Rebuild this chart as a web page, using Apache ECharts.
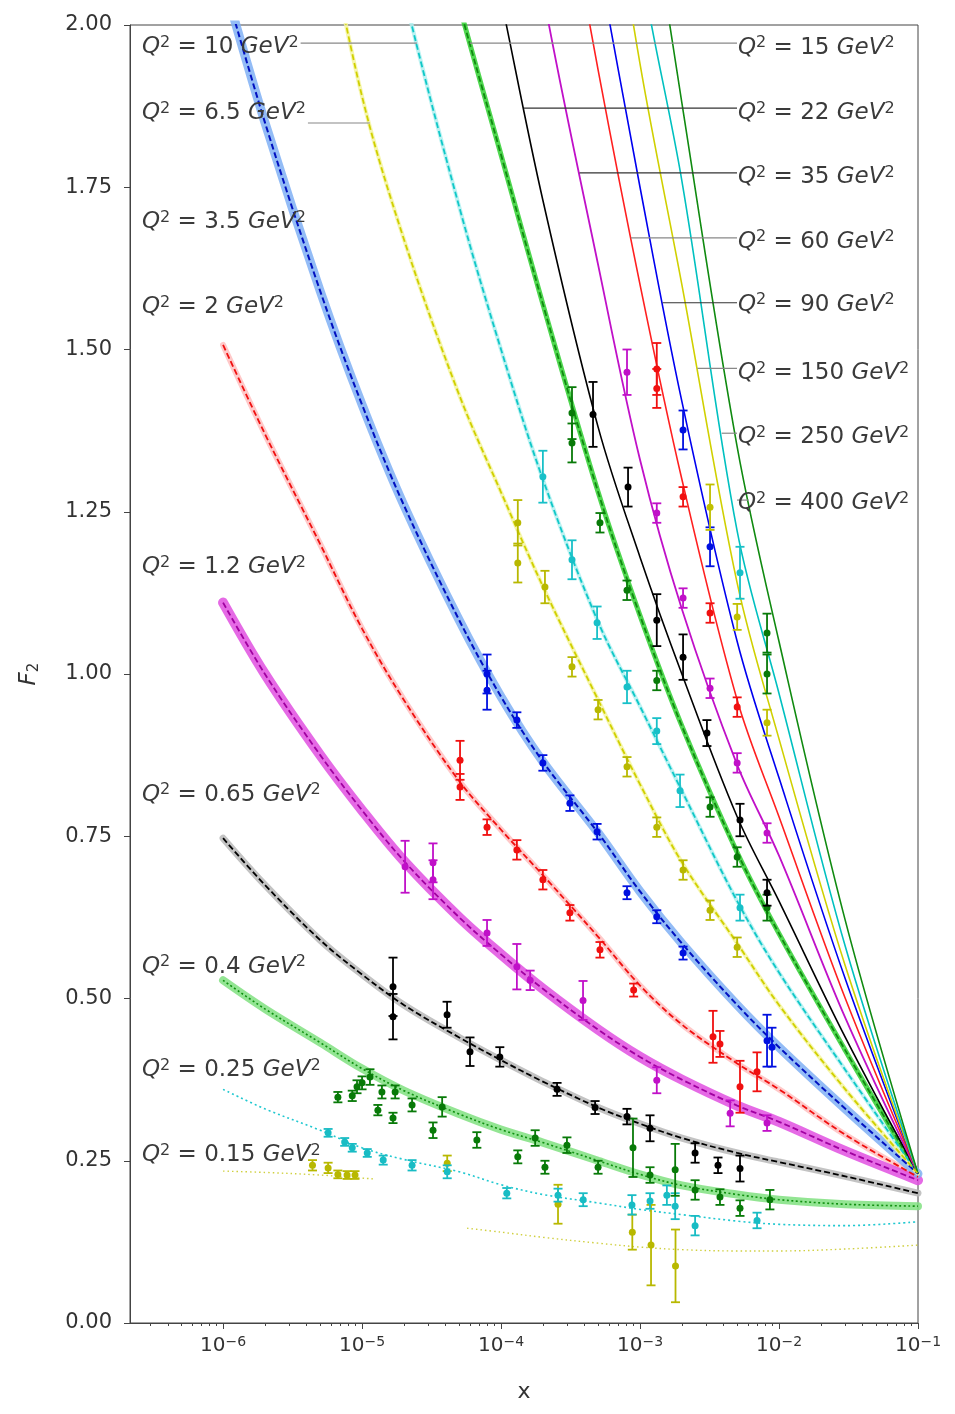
<!DOCTYPE html>
<html><head><meta charset="utf-8">
<script src="https://cdn.jsdelivr.net/npm/echarts@6/dist/echarts.min.js"></script>
<style>html,body{margin:0;padding:0;background:#fff}#c{width:955px;height:1414px}</style>
</head><body><div id="c"></div>
<script>
// ---------- axis ranges / ticks ----------
const X_MIN = 2.14e-7, X_MAX = 0.1;
const xMajorTicks = [1e-6, 1e-5, 1e-4, 1e-3, 1e-2, 1e-1];
const yTicks = [0, 0.25, 0.5, 0.75, 1.0, 1.25, 1.5, 1.75, 2.0];

// ---------- model curves (F2 vs x) ----------
const fitX = [1e-6,2e-6,5e-6,1e-5,2e-5,5e-5,1e-4,2e-4,5e-4,1e-3,2e-3,5e-3,1e-2,3e-2,1e-1];
const fit015X = [1e-6,2e-6,5e-6,1.2e-5,3e-5,5.7e-5,1e-4,2e-4,5e-4,1e-3,2e-3,5e-3,1e-2,3e-2,1e-1];
const fit015 = [0.234,0.232,0.228,0.222,null,0.146,0.14,0.132,0.123,0.117,0.113,0.111,0.111,0.114,0.12];
const fit025 = [0.36,0.33,0.297,0.27,0.252,0.233,0.213,0.198,0.185,0.175,0.167,0.157,0.152,0.15,0.156];
const fit04  = [0.528,0.484,0.432,0.392,0.358,0.322,0.298,0.278,0.25,0.229,0.212,0.198,0.19,0.183,0.18];
const fit065 = [0.747,0.675,0.59,0.537,0.49,0.44,0.405,0.372,0.332,0.307,0.285,0.262,0.248,0.226,0.2];
const fit12  = [1.11,1.0,0.875,0.79,0.712,0.625,0.568,0.515,0.452,0.41,0.375,0.335,0.31,0.265,0.22];
const fit2   = [1.507,1.37,1.2,1.07,0.96,0.835,0.76,0.69,0.595,0.52,0.46,0.4,0.36,0.29,0.225];
const fit35  = [2.07,1.85,1.59,1.415,1.26,1.083,0.965,0.865,0.755,0.665,0.585,0.49,0.425,0.33,0.23];
const fit65  = [null,null,2.2,1.89,1.67,1.43,1.28,1.135,0.96,0.83,0.71,0.585,0.49,0.36,0.23];
const fit10  = [null,null,null,2.35,2.05,1.72,1.5,1.3,1.08,0.95,0.82,0.65,0.54,0.39,0.23];
const fit15  = [null,null,null,null,2.35,2.03,1.8,1.57,1.28,1.09,0.92,0.725,0.6,0.42,0.23];
const fit22  = [null,null,null,null,null,2.35,2.04,1.73,1.38,1.18,1.0,0.78,0.65,0.44,0.23];
const fit35b = [null,null,null,null,null,null,2.45,2.05,1.63,1.33,1.1,0.86,0.72,0.47,0.23];
const fit60  = [null,null,null,null,null,null,null,2.4,1.93,1.6,1.3,0.96,0.78,0.5,0.23];
const fit90  = [null,null,null,null,null,null,null,2.56,2.1,1.75,1.42,1.05,0.84,0.53,0.23];
const fit150 = [null,null,null,null,null,null,null,null,2.35,1.94,1.6,1.14,0.9,0.55,0.23];
const fit250 = [null,null,null,null,null,null,null,null,2.6,2.1,1.76,1.22,0.97,0.58,0.23];
const fit400 = [null,null,null,null,null,null,null,null,null,2.3,1.88,1.35,1.05,0.62,0.23];

// ---------- measured points [x, F2, error] ----------
const pts015 = [[4.4e-6,0.243,0.008],[5.7e-6,0.239,0.008],[6.7e-6,0.229,0.006],[7.8e-6,0.228,0.006],[8.9e-6,0.228,0.006],[4.1e-5,0.246,0.012],[2.57e-4,0.183,0.03],[8.8e-4,0.14,0.027],[1.2e-3,0.12,0.062],[1.8e-3,0.088,0.056]];
const pts025 = [[5.7e-6,0.293,0.006],[7.5e-6,0.279,0.006],[8.5e-6,0.27,0.006],[1.09e-5,0.262,0.006],[1.42e-5,0.251,0.007],[2.29e-5,0.243,0.008],[4.1e-5,0.233,0.01],[1.1e-4,0.2,0.008],[2.57e-4,0.197,0.01],[3.9e-4,0.19,0.01],[8.75e-4,0.182,0.015],[1.18e-3,0.188,0.012],[1.56e-3,0.197,0.015],[1.79e-3,0.18,0.02],[2.49e-3,0.15,0.015],[6.95e-3,0.158,0.012]];
const pts04 = [[6.7e-6,0.348,0.008],[8.5e-6,0.35,0.008],[9.2e-6,0.364,0.01],[1.0e-5,0.37,0.01],[1.14e-5,0.379,0.012],[1.3e-5,0.328,0.008],[1.39e-5,0.356,0.01],[1.67e-5,0.316,0.008],[1.73e-5,0.356,0.01],[2.29e-5,0.336,0.01],[3.77e-5,0.333,0.015],[3.24e-5,0.297,0.012],[6.7e-5,0.282,0.012],[1.32e-4,0.256,0.01],[1.76e-4,0.285,0.012],[2.07e-4,0.24,0.01],[2.98e-4,0.274,0.012],[4.99e-4,0.24,0.01],[8.9e-4,0.27,0.045],[1.18e-3,0.228,0.012],[1.79e-3,0.236,0.04],[2.49e-3,0.205,0.015],[3.76e-3,0.194,0.012],[5.24e-3,0.177,0.012],[8.6e-3,0.19,0.015]];
const pts065 = [[1.67e-5,0.518,0.045],[1.67e-5,0.472,0.035],[4.09e-5,0.475,0.02],[5.98e-5,0.418,0.022],[9.8e-5,0.41,0.015],[2.53e-4,0.36,0.01],[4.75e-4,0.332,0.01],[8.06e-4,0.318,0.012],[1.18e-3,0.3,0.02],[2.49e-3,0.262,0.015],[3.64e-3,0.243,0.012],[5.24e-3,0.238,0.02]];
const pts12 = [[2.04e-5,0.703,0.04],[3.24e-5,0.709,0.03],[3.24e-5,0.683,0.03],[7.93e-5,0.601,0.02],[1.3e-4,0.549,0.035],[1.62e-4,0.528,0.015],[3.89e-4,0.497,0.03],[1.32e-3,0.374,0.02],[4.45e-3,0.323,0.02],[8.2e-3,0.308,0.012]];
const pts2 = [[5.07e-5,0.867,0.03],[5.07e-5,0.826,0.02],[7.93e-5,0.764,0.012],[1.3e-4,0.729,0.015],[2.0e-4,0.683,0.015],[3.13e-4,0.632,0.012],[5.15e-4,0.575,0.012],[9.0e-4,0.513,0.01],[3.35e-3,0.441,0.04],[3.76e-3,0.43,0.02],[5.24e-3,0.364,0.04],[6.95e-3,0.387,0.03]];
const pts35 = [[7.93e-5,1.0,0.03],[7.93e-5,0.975,0.03],[1.3e-4,0.929,0.012],[2.0e-4,0.863,0.012],[3.13e-4,0.801,0.012],[4.91e-4,0.757,0.012],[8.06e-4,0.663,0.01],[1.32e-3,0.626,0.01],[2.04e-3,0.57,0.01],[8.2e-3,0.435,0.04],[8.9e-3,0.425,0.03]];
const pts65 = [[1.32e-4,1.233,0.035],[1.32e-4,1.171,0.03],[2.07e-4,1.134,0.025],[3.24e-4,1.011,0.015],[4.99e-4,0.945,0.015],[8.06e-4,0.857,0.015],[1.32e-3,0.764,0.015],[2.04e-3,0.698,0.015],[3.19e-3,0.636,0.015],[5.0e-3,0.579,0.015]];
const pts10 = [[2.0e-4,1.304,0.04],[3.24e-4,1.176,0.03],[4.91e-4,1.079,0.025],[8.06e-4,0.98,0.025],[1.32e-3,0.912,0.02],[1.94e-3,0.82,0.025],[5.24e-3,0.64,0.02]];
const pts15 = [[3.24e-4,1.402,0.04],[3.24e-4,1.356,0.03],[5.15e-4,1.233,0.015],[8.06e-4,1.129,0.015],[1.32e-3,0.99,0.015],[3.19e-3,0.795,0.015],[5.0e-3,0.718,0.015],[8.2e-3,0.64,0.02]];
const pts22 = [[4.59e-4,1.4,0.05],[8.2e-4,1.288,0.03],[1.32e-3,1.083,0.04],[2.04e-3,1.026,0.035],[3.03e-3,0.909,0.02],[5.24e-3,0.775,0.025],[8.2e-3,0.663,0.02]];
const pts35b = [[8.06e-4,1.465,0.035],[1.32e-3,1.248,0.015],[2.04e-3,1.117,0.015],[3.19e-3,0.978,0.015],[5.0e-3,0.863,0.015],[8.2e-3,0.755,0.015]];
const pts60 = [[1.32e-3,1.47,0.04],[1.32e-3,1.44,0.03],[2.04e-3,1.273,0.015],[3.19e-3,1.094,0.015],[5.0e-3,0.949,0.015]];
const pts90 = [[2.04e-3,1.376,0.03],[3.19e-3,1.196,0.03]];
const pts150 = [[3.19e-3,1.257,0.035],[5.0e-3,1.088,0.02],[8.2e-3,0.925,0.02]];
const pts250 = [[5.24e-3,1.156,0.04]];
const pts400 = [[8.2e-3,1.063,0.03],[8.2e-3,1.0,0.03]];

// ---------- Q2 label annotations (F2 level of label / leader) ----------
const leftLabelQ  = ['10','6.5','3.5','2','1.2','0.65','0.4','0.25','0.15'];
const leftLabelY  = [1.966,1.864,1.696,1.565,1.165,0.814,0.549,0.39,0.259];
const leftLeaderY = [1.972,1.849,null,null,null,null,null,null,null];
const rightLabelQ  = ['15','22','35','60','90','150','250','400'];
const rightLabelY  = [1.965,1.864,1.766,1.666,1.569,1.464,1.365,1.263];
const rightLeaderY = [1.972,1.872,1.772,1.672,1.572,1.471,1.371,1.268];
const leftTextX = 2.61e-7, rightTextX = 5.07e-3;

// ---------- styling ----------
const FONT = 'DejaVu Sans';
const curves = {
  '0.15':{x:fit015X,y:fit015,color:'#d0d040',dash:[1.5,3],w:1.4,band:null},
  '0.25':{x:fitX,y:fit025,color:'#20c8d0',dash:[2,3],w:1.6,band:null},
  '0.4': {x:fitX,y:fit04,color:'#109010',dash:[2,2.5],w:1.6,band:'#80e080',bw:8},
  '0.65':{x:fitX,y:fit065,color:'#000000',dash:[6,3],w:1.8,band:'#b8b8b8',bw:7},
  '1.2': {x:fitX,y:fit12,color:'#a000a0',dash:[6,3],w:1.8,band:'#e050e0',bw:10},
  '2':   {x:fitX,y:fit2,color:'#f01010',dash:[6,3],w:1.8,band:'#ffc0c0',bw:6},
  '3.5': {x:fitX,y:fit35,color:'#0010c0',dash:[6,3],w:2,band:'#80b0f4',bw:9},
  '6.5': {x:fitX,y:fit65,color:'#d0d000',dash:[6,3],w:1.8,band:'#f4f4a0',bw:4},
  '10':  {x:fitX,y:fit10,color:'#10c8c8',dash:[6,3],w:1.8,band:'#b0f0f0',bw:4},
  '15':  {x:fitX,y:fit15,color:'#108a10',dash:[6,3],w:1.8,band:'#30d030',bw:5},
  '22':  {x:fitX,y:fit22,color:'#000000',dash:null,w:1.6,band:null},
  '35':  {x:fitX,y:fit35b,color:'#c010c8',dash:null,w:1.8,band:null},
  '60':  {x:fitX,y:fit60,color:'#ff2020',dash:null,w:1.6,band:null},
  '90':  {x:fitX,y:fit90,color:'#0000f0',dash:null,w:1.6,band:null},
  '150': {x:fitX,y:fit150,color:'#d0d000',dash:null,w:1.6,band:null},
  '250': {x:fitX,y:fit250,color:'#00c0c0',dash:null,w:1.6,band:null},
  '400': {x:fitX,y:fit400,color:'#108a10',dash:null,w:1.6,band:null}
};
const pointSets = [
  [pts015,'#b8b800'],[pts025,'#18bcc4'],[pts04,'#087a08'],[pts065,'#000000'],
  [pts12,'#c010c8'],[pts2,'#f01010'],[pts35,'#0010e0'],[pts65,'#b8b800'],
  [pts10,'#18c0c8'],[pts15,'#087a08'],[pts22,'#000000'],[pts35b,'#c010c8'],
  [pts60,'#f01010'],[pts90,'#0010e0'],[pts150,'#c0c000'],[pts250,'#18c0c8'],[pts400,'#087a08']
];

function zip(xs, ys){ return xs.map((x,i)=>[x, ys[i] === null ? null : ys[i]]); }

const series = [];
Object.keys(curves).forEach(k=>{
  const c = curves[k];
  if (c.band) series.push({type:'line', data:zip(c.x,c.y), smooth:0.35, showSymbol:false, silent:true, z:1,
    lineStyle:{color:c.band, width:c.bw, opacity:0.85, cap:'round'}});
});
Object.keys(curves).forEach(k=>{
  const c = curves[k];
  series.push({type:'line', name:'Q2='+k, data:zip(c.x,c.y), smooth:0.35, showSymbol:false, silent:true, z:2,
    lineStyle:{color:c.color, width:c.w, type: c.dash ? c.dash : 'solid'}});
});
pointSets.forEach(([d,col])=>{
  series.push({type:'custom', data:d, z:5, silent:true, encode:{x:0,y:1},
    renderItem:(params, api)=>{
      const x=api.value(0), y=api.value(1), e=api.value(2);
      const c=api.coord([x,y]), t=api.coord([x,y+e]), b=api.coord([x,y-e]);
      const cap=4.5, st={stroke:col, lineWidth:1.8};
      return {type:'group', children:[
        {type:'line', shape:{x1:c[0],y1:t[1],x2:c[0],y2:b[1]}, style:st},
        {type:'line', shape:{x1:c[0]-cap,y1:t[1],x2:c[0]+cap,y2:t[1]}, style:st},
        {type:'line', shape:{x1:c[0]-cap,y1:b[1],x2:c[0]+cap,y2:b[1]}, style:st},
        {type:'circle', shape:{cx:c[0],cy:c[1],r:3.5}, style:{fill:col}}
      ]};
    }});
});

const xMinorTicks = [];
for (let n=-7;n<=-2;n++) for (let k=2;k<=9;k++){ const v=k*Math.pow(10,n); if (v>X_MIN && v<X_MAX) xMinorTicks.push(v); }

const chart = echarts.init(document.getElementById('c'), null, {renderer:'canvas'});
chart.setOption({
  animation:false,
  backgroundColor:'#fff',
  grid:{left:130, right:37, top:25, bottom:91, show:true, borderColor:'#444', borderWidth:1},
  xAxis:[{
    type:'log', logBase:10, min:X_MIN, max:X_MAX,
    axisLine:{show:true, lineStyle:{color:'#444', width:1}},
    axisTick:{show:true, customValues:xMajorTicks, length:6, lineStyle:{color:'#444'}},
    axisLabel:{customValues:xMajorTicks, margin:12, color:'#333',
      formatter:(v)=>{ const e = (v>0 && v<1) ? Math.round(Math.log10(v)) : Math.round(v); return '{b|10}{e|\u2212'+(-e)+'}'; },
      rich:{b:{fontSize:20, fontFamily:FONT, color:'#333'}, e:{fontSize:14, fontFamily:FONT, color:'#333', verticalAlign:'top', padding:[0,0,8,0]}}},
    splitLine:{show:false},
    name:'x', nameLocation:'middle', nameGap:58, nameTextStyle:{fontSize:22, fontFamily:FONT, color:'#333'}
  },{
    type:'log', logBase:10, min:X_MIN, max:X_MAX, position:'bottom',
    axisLine:{show:false}, axisLabel:{show:false}, splitLine:{show:false},
    axisTick:{show:true, customValues:xMinorTicks, length:3, lineStyle:{color:'#444'}}
  }],
  yAxis:{
    type:'value', min:0, max:2, interval:0.25,
    axisLine:{show:true, lineStyle:{color:'#444'}},
    axisTick:{show:true, length:6, lineStyle:{color:'#444'}},
    axisLabel:{margin:18, fontSize:21, fontFamily:FONT, color:'#333', formatter:(v)=>v.toFixed(2)},
    splitLine:{show:false},
    name:'F{s|2}', nameLocation:'middle', nameGap:88, nameRotate:90,
    nameTextStyle:{fontSize:23, fontFamily:FONT, fontStyle:'italic', color:'#333',
      rich:{s:{fontSize:15, fontFamily:FONT, fontStyle:'normal', color:'#333', verticalAlign:'bottom', padding:[10,0,0,0]}}}
  },
  series
});

// ---------- annotations ----------
function crossX(c, level){
  for (let i=0;i<c.x.length-1;i++){
    const a=c.y[i], b=c.y[i+1];
    if (a===null || b===null) continue;
    if ((a-level)*(b-level) <= 0){
      const t=(level-a)/(b-a);
      const la=Math.log10(c.x[i]), lb=Math.log10(c.x[i+1]);
      return Math.pow(10, la + t*(lb-la));
    }
  }
  return null;
}
const px = (x,y)=>chart.convertToPixel({xAxisIndex:0, yAxisIndex:0}, [x,y]);
const cv = document.createElement('canvas').getContext('2d');
const LF = 23, SF = 16;
function textW(q){
  cv.font = 'italic '+LF+'px "'+FONT+'"'; let w = cv.measureText('Q').width + cv.measureText('GeV').width;
  cv.font = SF+'px "'+FONT+'"'; w += 2*cv.measureText('2').width;
  cv.font = LF+'px "'+FONT+'"'; w += cv.measureText(' = '+q+' ').width;
  return w;
}
const rich = {
  q:{fontSize:LF, fontFamily:FONT, fontStyle:'italic', fill:'#3a3a3a'},
  t:{fontSize:LF, fontFamily:FONT, fill:'#3a3a3a'},
  s:{fontSize:SF, fontFamily:FONT, fill:'#3a3a3a', verticalAlign:'top', padding:[0,0,9,0]}
};
const labelText = q => '{q|Q}{s|2}{t| = '+q+' }{q|GeV}{s|2}';
const graphics = [];
leftLabelQ.forEach((q,i)=>{
  const p = px(leftTextX, leftLabelY[i]);
  graphics.push({type:'text', x:p[0], y:p[1], z:100, style:{text:labelText(q), rich, verticalAlign:'middle', align:'left'}});
  if (leftLeaderY[i] !== null){
    const xe = crossX(curves[q], leftLeaderY[i]);
    const s = p[0] + textW(q) + 2;
    const e = px(xe, leftLeaderY[i]);
    graphics.push({type:'line', z:90, shape:{x1:s, y1:e[1], x2:e[0], y2:e[1]}, style:{stroke:'#888', lineWidth:1.2}});
  }
});
rightLabelQ.forEach((q,i)=>{
  const p = px(rightTextX, rightLabelY[i]);
  graphics.push({type:'text', x:p[0], y:p[1], z:100, style:{text:labelText(q), rich, verticalAlign:'middle', align:'left'}});
  const xs = crossX(curves[q], rightLeaderY[i]);
  const s = px(xs, rightLeaderY[i]);
  const dark = (q==='22'||q==='35'||q==='90');
  graphics.push({type:'line', z:90, shape:{x1:s[0], y1:s[1], x2:p[0]-1, y2:s[1]}, style:{stroke: dark?'#333':'#888', lineWidth:1.2}});
});
chart.setOption({graphic:graphics});
</script>
</body></html>
